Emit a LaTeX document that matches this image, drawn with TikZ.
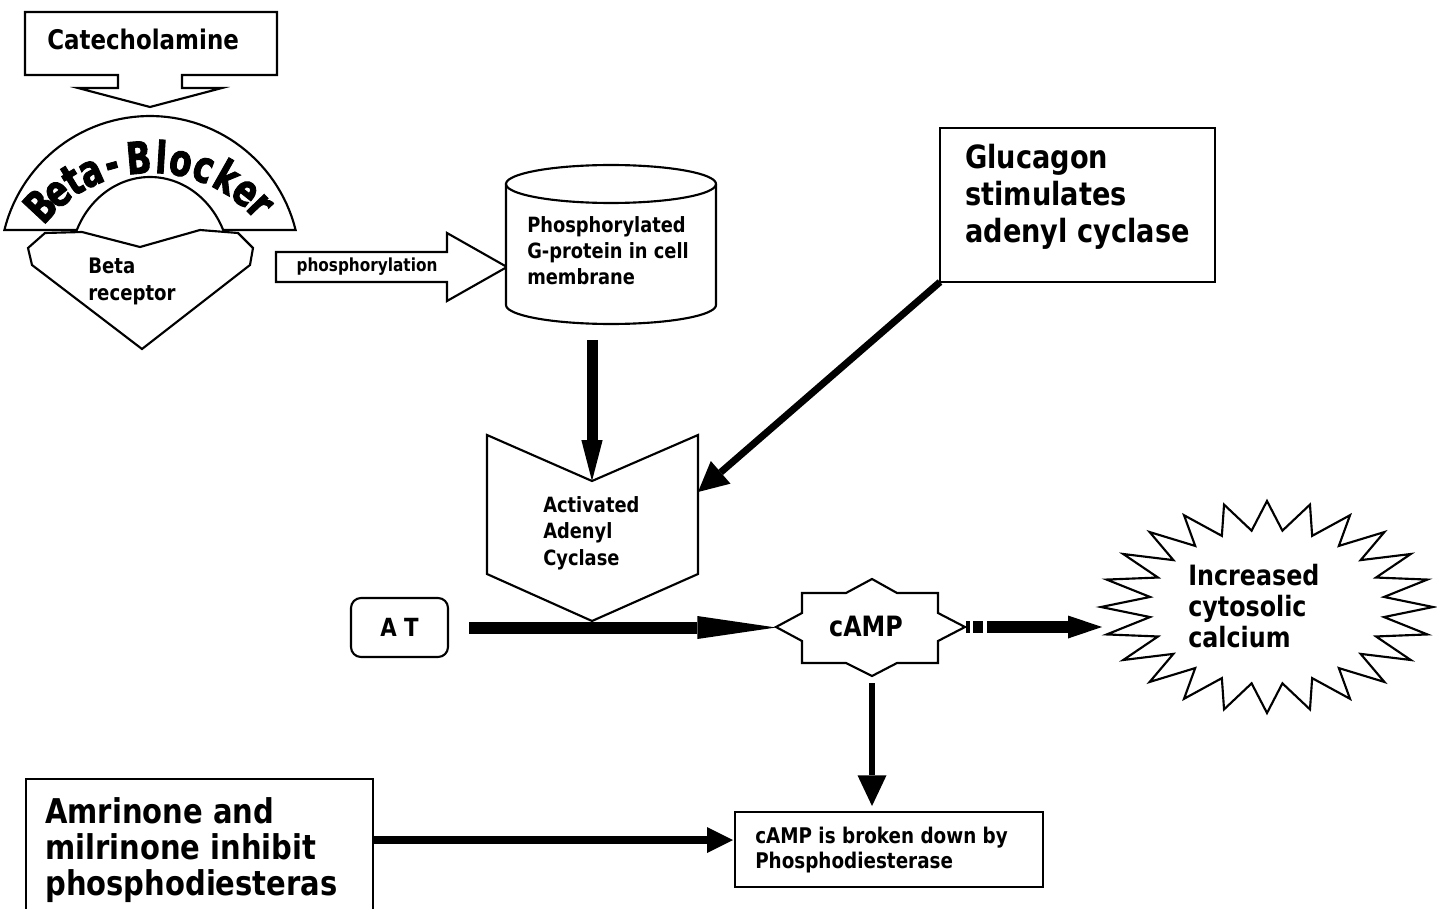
\documentclass[tikz,border=0pt]{standalone}
\usepackage{fontspec}
\setmainfont{DejaVu Sans}[FakeStretch=0.85]
\newfontfamily\bbfont{DejaVu Sans Bold}[FakeStretch=0.74,FakeBold=2]
\usetikzlibrary{arrows.meta}
\newcommand\tsz[2]{\fontsize{#1}{#2}\selectfont\bfseries}
\begin{document}
\begin{tikzpicture}[x=0.75pt,y=-0.75pt,
  outl/.style={draw=black,line width=1.6pt,fill=white,line join=miter},
  txt/.style={inner sep=0pt,align=left,anchor=west},
  conn/.style={draw=black,line cap=butt}]
\useasboundingbox[fill=white] (0,0) rectangle (1437,909);

% Catecholamine callout
\draw[outl] (25,12) -- (277,12) -- (277,75) -- (182,75) -- (182,88) -- (222,88) -- (150,107) -- (78,88) -- (118,88) -- (118,75) -- (25,75) -- cycle;
\node[txt,font=\tsz{20.25}{24}] (cat) at (47,39) {Catecholamine};

% Beta-blocker arch
\draw[outl] plot[domain=166.1:13.9,samples=60] ({150+150*cos(\x)},{266-150*sin(\x)})
  -- plot[domain=23.9:156.1,samples=60] ({150+80*cos(\x)},{266-89*sin(\x)}) -- cycle;
\foreach \c/\a [count=\i] in {B/137,e/129,t/121.5,a/114,-/105.5,B/95,l/86.5,o/79,c/70,k/60.5,e/51.5,r/44}
  \node[inner sep=0pt,anchor=base,rotate=\a-90,font=\bbfont\fontsize{33}{33}\selectfont] (bb\i) at ({152+137*cos(\a)},{310-137*sin(\a)}) {\c};

% Beta receptor
\draw[outl] (45,233) -- (82,232) -- (140,247) -- (200,230) -- (238,233) -- (253,248) -- (250,265) -- (142,349) -- (32,265) -- (28,248) -- cycle;
\node[txt,font=\tsz{16}{20.25}] (rec) at (88,281) {Beta\\receptor};

% phosphorylation block arrow
\draw[outl] (276,252) -- (447,252) -- (447,233) -- (507,267) -- (447,301) -- (447,282) -- (276,282) -- cycle;
\node[inner sep=0pt,font=\tsz{13.5}{16}] (phos) at (367,267) {phosphorylation};

% Cylinder
\draw[outl] (506,184) -- (506,305) -- plot[domain=180:360,samples=40] ({611+105*cos(\x)},{305-19*sin(\x)})
  -- (716,184) -- plot[domain=0:180,samples=40] ({611+105*cos(\x)},{184-19*sin(\x)}) -- cycle;
\draw[outl,fill=none] plot[domain=180:360,samples=40] ({611+105*cos(\x)},{184-19*sin(\x)});
\node[txt,font=\tsz{15.75}{19.5}] (gprot) at (527,251) {Phosphorylated\\G-protein in cell\\membrane};
\coordinate (cylbot) at (592,340);

% Activated adenyl cyclase (chevron)
\draw[outl] (487,435) -- (592,481) -- (698,435) -- (698,574) -- (592,621) -- (487,574) -- cycle;
\node[txt,font=\tsz{15.75}{19.875}] (adc) at (543,533) {Activated\\Adenyl\\Cyclase};
\coordinate (notch) at (592,481);
\coordinate (pentR) at (698,492);

% Glucagon box
\draw[outl] (940,128) rectangle (1215,282);
\node[txt,font=\tsz{24}{27.75}] (gluc) at (965,197) {Glucagon\\stimulates\\adenyl cyclase};
\coordinate (glucC) at (940,282);

% AT box
\node[draw,line width=1.6pt,rounded corners=7.5pt,minimum width=72.75pt,minimum height=44.25pt,inner sep=0pt,font=\tsz{18.75}{20}] (at) at (399.5,627.5) {A T\hspace{6pt}};

% cAMP shape
\draw[outl] (776,627) -- (802,613) -- (802,593) -- (846,593) -- (872,579) -- (897,593) -- (938,593) -- (938,613) -- (965,627) -- (938,641) -- (938,663) -- (897,663) -- (872,676) -- (846,663) -- (802,663) -- (802,641) -- cycle;
\node[inner sep=0pt,font=\tsz{21}{22}] (camp) at (866,626) {cAMP};
\coordinate (campL) at (776,627.5);
\coordinate (campR) at (966,627);
\coordinate (campB) at (872,683);

% Starburst
\draw[outl] plot[samples at={0,7.5,...,352.5}] ({1267+(166-48*mod(round(\x/7.5),2))*cos(\x)},{607-(106-29*mod(round(\x/7.5),2))*sin(\x)}) -- cycle;
\node[txt,font=\tsz{21}{23.25}] (calc) at (1188,606) {Increased\\cytosolic\\calcium};
\coordinate (starL) at (1102,627);

% Phosphodiesterase box
\draw[outl] (735,812) rectangle (1043,887);
\node[txt,font=\tsz{16.2}{18.75}] (pde) at (755,850) {cAMP is broken down by\\Phosphodiesterase};
\coordinate (pdeT) at (872,806);
\coordinate (pdeL) at (733,840);

% Amrinone box
\draw[outl,fill=none] (26,925) -- (26,779) -- (373,779) -- (373,925);
\node[txt,font=\tsz{25.6}{27}] (amr) at (45,850) {Amrinone and\\milrinone inhibit\\phosphodiesteras};
\coordinate (amrR) at (373,840);

% Connectors
\draw[conn,line width=9pt,shorten <=15pt,-{Triangle[length=59pt,width=17.25pt,line width=0pt]}] (at.east) -- (campL);
\draw[conn,line width=8.25pt,-{Triangle[length=30.75pt,width=16pt,line width=0pt]}] (cylbot) -- (notch);
\draw[conn,line width=5.25pt,-{Triangle[length=22.5pt,width=22.5pt,line width=0pt]}] (glucC) -- (pentR);
\draw[conn,line width=9pt,dash pattern=on 3pt off 2.5pt on 7.5pt off 3pt on 300pt,-{Triangle[length=25.5pt,width=17.25pt,line width=0pt]}] (campR) -- (starL);
\draw[conn,line width=4.5pt,-{Triangle[length=23pt,width=21.75pt,line width=0pt]}] (campB) -- (pdeT);
\draw[conn,line width=6pt,-{Triangle[length=19.5pt,width=19.5pt,line width=0pt]}] (amrR) -- (pdeL);
\end{tikzpicture}
\end{document}
